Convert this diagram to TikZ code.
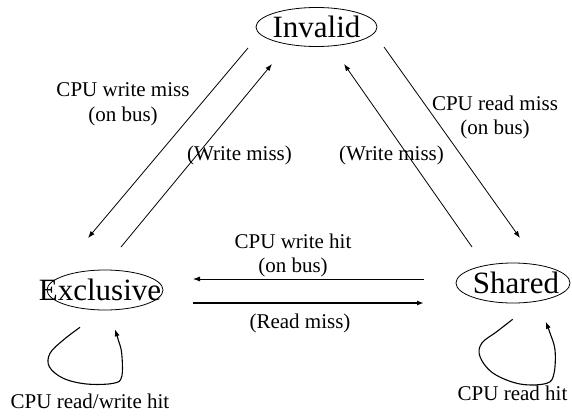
\documentclass[tikz,border=0pt]{standalone}
\usepackage{fontspec}
\setmainfont{Liberation Serif}
\usetikzlibrary{shapes.geometric,arrows.meta}
\begin{document}
\begin{tikzpicture}[x=1pt,y=-1pt,
  state/.style={draw,ellipse,line width=0.8pt,inner sep=0pt,font=\fontsize{31}{37}\selectfont},
  lbl/.style={font=\fontsize{21}{24.5}\selectfont,align=center,inner sep=0pt},
  conn/.style={line width=0.8pt,-{Latex[length=7pt,width=5pt]}},
  loopc/.style={line width=1.1pt,-{Latex[length=7pt,width=5pt]}}]
\useasboundingbox (0,0) rectangle (572,415);
% states
\node[state,minimum width=121pt,minimum height=39pt] (inv) at (316.5,27) {\makebox[0pt]{Invalid}};
\node[state,minimum width=116pt,minimum height=40pt] (exc) at (105,290) {\makebox[0pt]{Exclusive\hspace{10pt}}};
\node[state,minimum width=114pt,minimum height=40pt] (sha) at (513,283) {\makebox[0pt]{\hspace{6pt}Shared}};
% connector ends
\coordinate (a1) at (248,48);  \coordinate (a2) at (88,238);
\coordinate (b1) at (121,247); \coordinate (b2) at (272,64);
\coordinate (c1) at (472,247); \coordinate (c2) at (344,64);
\coordinate (d1) at (384,47);  \coordinate (d2) at (520,238);
\coordinate (e1) at (424,279); \coordinate (e2) at (193,279);
\coordinate (f1) at (193,303); \coordinate (f2) at (424,303);
% connectors
\draw[conn] (a1) -- (a2);
\draw[conn] (b1) -- (b2);
\draw[conn] (c1) -- (c2);
\draw[conn] (d1) -- (d2);
\draw[conn] (e1) -- (e2);
\draw[conn,line width=1.6pt] (f1) -- (f2);
% self loops
\draw[loopc] plot[smooth,tension=0.6] coordinates {(80,327.3) (63.3,340) (50,353.3) (49.3,366.7) (63.3,378.3) (86.7,384) (113.3,383.3) (121.7,376.7) (121.7,353.3) (118.3,340) (115,329.3)};
\draw[loopc] plot[smooth,tension=0.6] coordinates {(512.7,319.3) (496.7,331.7) (481.7,343.3) (480,356.7) (493.3,373.3) (520,384) (546.7,383.3) (554,373.3) (555,350) (550,333) (545.7,321.7)};
% labels
\node[lbl] (l1) at (123,104.5) {CPU write miss\\(on bus)};
\node[lbl,anchor=base] (l2) at (239.5,160) {(Write miss)};
\node[lbl,anchor=base] (l3) at (391.5,160) {(Write miss)};
\node[lbl] (l4) at (495,117.5) {CPU read miss\\(on bus)};
\node[lbl] (l5) at (293,255.5) {CPU write hit\\(on bus)};
\node[lbl,anchor=base] (l6) at (300,328.5) {(Read miss)};
\node[lbl,anchor=base] (l7) at (90,408) {CPU read/write hit};
\node[lbl,anchor=base] (l8) at (512.5,400) {CPU read hit};
\end{tikzpicture}
\end{document}
